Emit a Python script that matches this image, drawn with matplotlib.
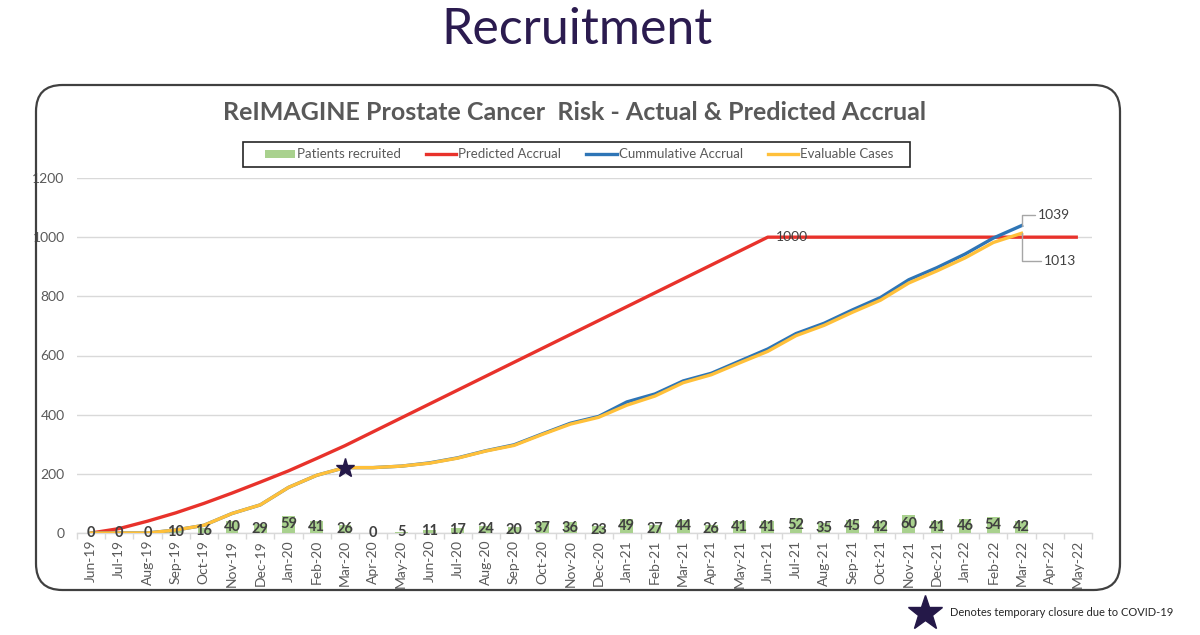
import numpy as np
import matplotlib
matplotlib.use("Agg")
import matplotlib.pyplot as plt
from matplotlib.patches import FancyBboxPatch, Patch, Rectangle
from matplotlib.lines import Line2D

plt.rcParams['font.family'] = ['Lato', 'DejaVu Sans']

months = ["Jun-19", "Jul-19", "Aug-19", "Sep-19", "Oct-19", "Nov-19", "Dec-19",
          "Jan-20", "Feb-20", "Mar-20", "Apr-20", "May-20", "Jun-20", "Jul-20",
          "Aug-20", "Sep-20", "Oct-20", "Nov-20", "Dec-20", "Jan-21", "Feb-21",
          "Mar-21", "Apr-21", "May-21", "Jun-21", "Jul-21", "Aug-21", "Sep-21",
          "Oct-21", "Nov-21", "Dec-21", "Jan-22", "Feb-22", "Mar-22", "Apr-22",
          "May-22"]

patients_recruited = [0, 0, 0, 10, 16, 40, 29, 59, 41, 26, 0, 5, 11, 17, 24, 20,
                      37, 36, 23, 49, 27, 44, 26, 41, 41, 52, 35, 45, 42, 60, 41,
                      46, 54, 42, None, None]

predicted_accrual = [0, 15, 40, 68, 100, 135, 172, 210, 252, 295, 342, 389, 436,
                     483, 530, 577, 624, 671, 718, 765, 812, 859, 906, 953, 1000,
                     1000, 1000, 1000, 1000, 1000, 1000, 1000, 1000, 1000, 1000,
                     1000]

cumulative_accrual = [0, 0, 0, 10, 26, 66, 95, 154, 195, 221, 221, 226, 237, 254,
                      278, 298, 335, 371, 394, 443, 470, 514, 540, 581, 622, 674,
                      709, 754, 796, 856, 897, 943, 997, 1039, None, None]

evaluable_cases = [0, 0, 0, 10, 26, 66, 95, 154, 195, 221, 221, 226, 236, 253,
                   277, 296, 333, 368, 391, 432, 463, 508, 535, 575, 614, 667,
                   702, 746, 787, 845, 886, 930, 982, 1013, None, None]

covid_month = "Mar-20"

C_GREEN = "#A9D18E"
C_RED = "#E8322B"
C_BLUE = "#2E75B6"
C_YELLOW = "#FFC03A"
C_GRID = "#D9D9D9"
C_TXT = "#595959"
C_STAR = "#241848"

W, H = 1200, 635
fig = plt.figure(figsize=(W / 100, H / 100), dpi=100)

def fx(px):
    return px / W

def fy(py):
    return 1 - py / H

# page title
fig.text(fx(577), fy(30), "Recruitment", ha="center", va="center",
         fontsize=36, color="#2B1B4F")

# rounded chart frame
frame = FancyBboxPatch((fx(36), fy(590)), fx(1120 - 36), (590 - 85) / H,
                       boxstyle="round,pad=0,rounding_size=0.022",
                       transform=fig.transFigure, fill=False,
                       edgecolor="#404040", linewidth=1.6, mutation_aspect=W / H)
fig.patches.append(frame)

# chart title
fig.text(fx(575), fy(113), "ReIMAGINE Prostate Cancer  Risk - Actual & Predicted Accrual",
         ha="center", va="center", fontsize=18, fontweight="bold", color=C_TXT)

ax = fig.add_axes([fx(77), fy(533), fx(1092 - 77), (533 - 178) / H])

x = np.arange(len(months))

bx = [i for i, v in enumerate(patients_recruited) if v is not None]
bv = [v for v in patients_recruited if v is not None]
bars = ax.bar(bx, bv, width=0.45, color=C_GREEN, zorder=2)
ax.bar_label(bars, labels=[str(v) for v in bv], label_type="center",
             fontsize=10.5, fontweight="bold", color="#404040", zorder=6)

ax.plot(x, predicted_accrual, color=C_RED, lw=2.4, zorder=3,
        solid_capstyle="butt")

cx = [i for i, v in enumerate(cumulative_accrual) if v is not None]
cv = [v for v in cumulative_accrual if v is not None]
ax.plot(cx, cv, color=C_BLUE, lw=2.4, zorder=4)

ex = [i for i, v in enumerate(evaluable_cases) if v is not None]
ev = [v for v in evaluable_cases if v is not None]
ax.plot(ex, ev, color=C_YELLOW, lw=2.4, zorder=5)

# covid star
ci = months.index(covid_month)
ax.plot([ci], [cumulative_accrual[ci]], marker="*", markersize=14,
        color=C_STAR, zorder=7, linestyle="none")

# data labels
pi = predicted_accrual.index(1000)
ax.annotate(str(predicted_accrual[pi]), (pi, predicted_accrual[pi]),
            xytext=(6, 0), textcoords="offset points", ha="left", va="center",
            fontsize=10, color="#404040", zorder=8)

ax.annotate(str(cv[-1]), xy=(cx[-1], cv[-1]), xytext=(12, 8),
            textcoords="offset points", ha="left", va="center",
            fontsize=10, color="#404040", zorder=8,
            arrowprops=dict(arrowstyle="-", color="#A6A6A6", lw=1,
                            connectionstyle="angle,angleA=0,angleB=90,rad=0",
                            shrinkA=0, shrinkB=0))
ax.annotate(str(ev[-1]), xy=(ex[-1], ev[-1]), xytext=(16, -20),
            textcoords="offset points", ha="left", va="center",
            fontsize=10, color="#404040", zorder=8,
            arrowprops=dict(arrowstyle="-", color="#A6A6A6", lw=1,
                            connectionstyle="angle,angleA=0,angleB=90,rad=0",
                            shrinkA=0, shrinkB=0))

ax.set_xlim(-0.5, len(months) - 0.5)
ax.set_ylim(0, 1200)
ax.set_yticks(np.arange(0, 1201, 200))
ax.set_xticks(x)
ax.set_xticklabels(months, rotation=90, fontsize=10, color=C_TXT)
ax.tick_params(axis="y", length=0, labelsize=10, labelcolor=C_TXT, pad=9)
ax.tick_params(axis="x", length=0, pad=5)
ax.set_xticks(np.arange(-0.5, len(months), 1), minor=True)
ax.tick_params(axis="x", which="minor", length=4, color=C_GRID, width=1)
ax.grid(axis="y", color=C_GRID, lw=1, zorder=0)
ax.set_axisbelow(True)
for s in ["top", "right", "left"]:
    ax.spines[s].set_visible(False)
ax.spines["bottom"].set_color(C_GRID)
ax.spines["bottom"].set_linewidth(1)
ax.spines["bottom"].set_zorder(1)

# legend with its own box
box = Rectangle((fx(243), fy(167)), fx(910 - 243), (167 - 142) / H,
                transform=fig.transFigure, fill=False, edgecolor="#262626",
                linewidth=1.2)
fig.patches.append(box)
handles = [Patch(facecolor=C_GREEN, edgecolor="none"),
           Line2D([], [], color=C_RED, lw=2.4),
           Line2D([], [], color=C_BLUE, lw=2.4),
           Line2D([], [], color=C_YELLOW, lw=2.4)]
labels = ["Patients recruited", "Predicted Accrual", "Cummulative Accrual",
          "Evaluable Cases"]
leg = fig.legend(handles, labels, ncol=4, loc="center",
                 bbox_to_anchor=(fx(579), fy(154.5)), fontsize=9.5,
                 frameon=False, handlelength=2.3, handleheight=0.5,
                 handletextpad=0.15, columnspacing=1.9, borderpad=0.2)
for t in leg.get_texts():
    t.set_color(C_TXT)

# covid note below frame
fig.text(fx(950), fy(613), "Denotes temporary closure due to COVID-19",
         ha="left", va="center", fontsize=8, color="#262626")
fig.add_artist(Line2D([fx(925)], [fy(613)], marker="*", markersize=26,
                      color=C_STAR, transform=fig.transFigure))

fig.savefig("out.png", dpi=100)
